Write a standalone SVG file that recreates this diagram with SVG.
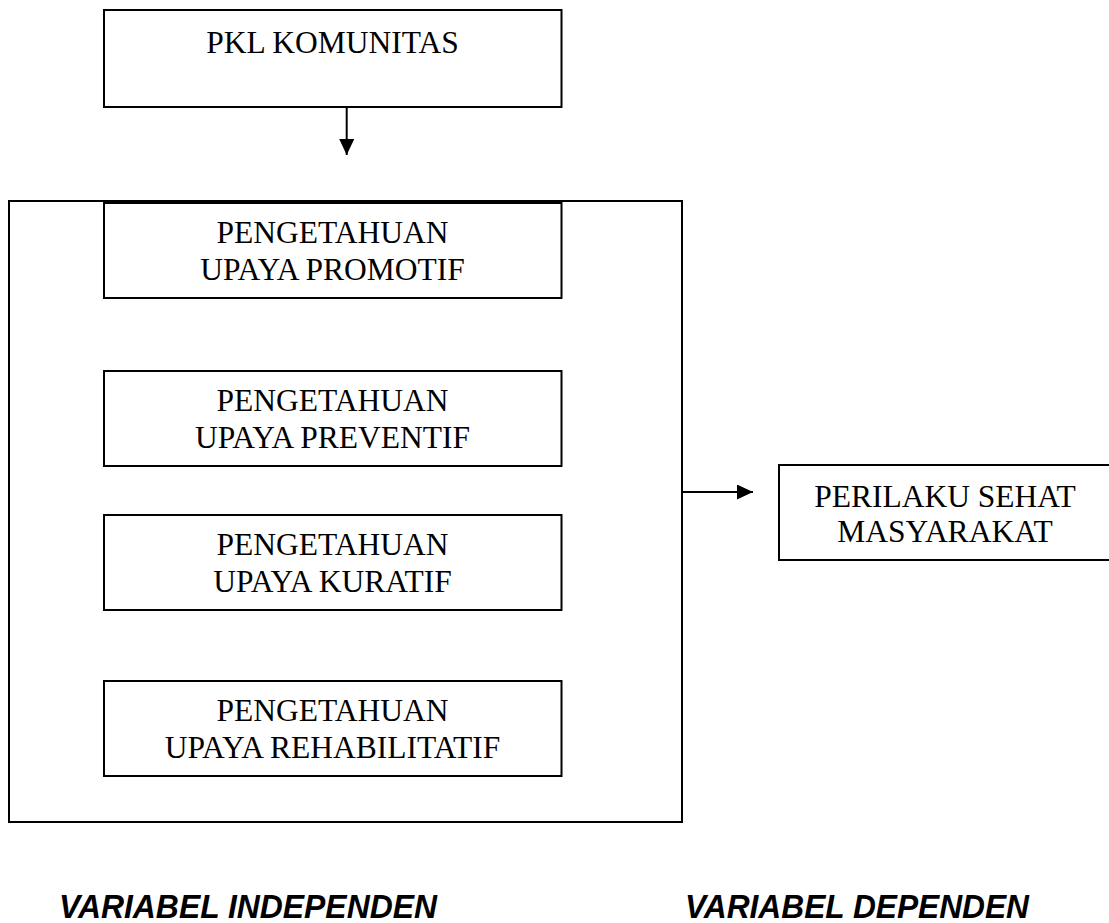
<svg xmlns="http://www.w3.org/2000/svg" width="1109" height="923" viewBox="0 0 1109 923">
<style>
.box{fill:#fff;stroke:#000;stroke-width:2}
.t{font-family:"Liberation Serif","Times New Roman",serif;font-size:31.5px;fill:#000;text-anchor:middle}
.lbl{font-family:"Liberation Sans",Arial,sans-serif;font-weight:bold;font-style:italic;font-size:34px;fill:#000}
.ln{stroke:#000;stroke-width:2;fill:none}
</style>
<defs>
<marker id="ah" markerWidth="16" markerHeight="15" refX="16" refY="7.5" orient="auto" markerUnits="userSpaceOnUse">
<path d="M0,0 L16,7.5 L0,15 Z" fill="#000"/>
</marker>
</defs>
<rect width="1109" height="923" fill="#fff"/>
<g id="outer"><rect class="box" x="9" y="201" width="673" height="621"/></g>
<g id="pkl"><rect class="box" x="104" y="10" width="457.5" height="97"/><text class="t" x="332.5" y="53">PKL KOMUNITAS</text></g>
<g id="promotif"><rect class="box" x="104" y="203" width="457.5" height="95"/><text class="t" x="332.5" y="243">PENGETAHUAN</text><text class="t" x="332.5" y="280">UPAYA PROMOTIF</text></g>
<g id="preventif"><rect class="box" x="104" y="371" width="457.5" height="95"/><text class="t" x="332.5" y="411">PENGETAHUAN</text><text class="t" x="332.5" y="448">UPAYA PREVENTIF</text></g>
<g id="kuratif"><rect class="box" x="104" y="515" width="457.5" height="95"/><text class="t" x="332.5" y="555">PENGETAHUAN</text><text class="t" x="332.5" y="592">UPAYA KURATIF</text></g>
<g id="rehabilitatif"><rect class="box" x="104" y="681" width="457.5" height="95"/><text class="t" x="332.5" y="721">PENGETAHUAN</text><text class="t" x="332.5" y="758">UPAYA REHABILITATIF</text></g>
<g id="perilaku"><rect class="box" x="779" y="465" width="334" height="95"/><text class="t" x="945" y="507">PERILAKU SEHAT</text><text class="t" x="945" y="542">MASYARAKAT</text></g>
<g id="connectors">
<line class="ln" x1="346.7" y1="107" x2="346.7" y2="155" marker-end="url(#ah)"/>
<line class="ln" x1="682" y1="492" x2="753" y2="492" marker-end="url(#ah)"/>
</g>
<g id="labels">
<text class="lbl" x="59" y="918" textLength="378" lengthAdjust="spacingAndGlyphs">VARIABEL INDEPENDEN</text>
<text class="lbl" x="685" y="918" textLength="344" lengthAdjust="spacingAndGlyphs">VARIABEL DEPENDEN</text>
</g>
</svg>
